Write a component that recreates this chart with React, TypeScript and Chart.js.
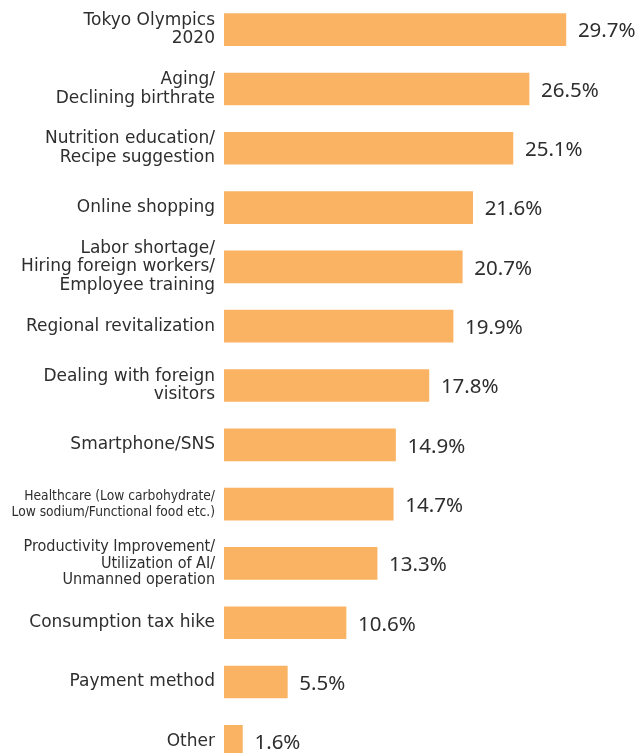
import React, { useEffect, useRef } from "react";
import { Chart, registerables } from "chart.js";

Chart.register(...registerables);

const categories: string[][] = [
  ["Tokyo Olympics", "2020"],
  ["Aging/", "Declining birthrate"],
  ["Nutrition education/", "Recipe suggestion"],
  ["Online shopping"],
  ["Labor shortage/", "Hiring foreign workers/", "Employee training"],
  ["Regional revitalization"],
  ["Dealing with foreign", "visitors"],
  ["Smartphone/SNS"],
  ["Healthcare (Low carbohydrate/", "Low sodium/Functional food etc.)"],
  ["Productivity Improvement/", "Utilization of AI/", "Unmanned operation"],
  ["Consumption tax hike"],
  ["Payment method"],
  ["Other"],
];

const values: number[] = [29.7, 26.5, 25.1, 21.6, 20.7, 19.9, 17.8, 14.9, 14.7, 13.3, 10.6, 5.5, 1.6];

const valueLabels: string[] = values.map((v) => v.toFixed(1) + "%");

const BAR_COLOR = "#F9B362";
const TEXT_COLOR = "#2e2e2e";

export default function App() {
  const ref = useRef<HTMLCanvasElement | null>(null);

  useEffect(() => {
    if (!ref.current) return;
    const valuePlugin = {
      id: "valueLabels",
      afterDatasetsDraw(chart: any) {
        const ctx = chart.ctx;
        const meta = chart.getDatasetMeta(0);
        ctx.save();
        ctx.font = "20.5px 'Noto Sans'";
        ctx.fillStyle = TEXT_COLOR;
        ctx.textAlign = "left";
        ctx.textBaseline = "middle";
        meta.data.forEach((bar: any, i: number) => {
          ctx.fillText(valueLabels[i], bar.x + 12, bar.y + 2);
        });
        ctx.restore();
      },
    };

    const chart = new Chart(ref.current, {
      type: "bar",
      data: {
        labels: categories,
        datasets: [
          {
            data: values,
            backgroundColor: BAR_COLOR,
            borderWidth: 0,
            barThickness: 32,
          },
        ],
      },
      options: {
        indexAxis: "y",
        animation: false,
        responsive: true,
        maintainAspectRatio: false,
        layout: { padding: 0 },
        plugins: {
          legend: { display: false },
          tooltip: { enabled: false },
          title: { display: false },
        },
        scales: {
          x: {
            display: false,
            min: 0,
            max: 36.4,
          },
          y: {
            grid: { display: false, drawTicks: false },
            border: { display: false },
            ticks: {
              color: TEXT_COLOR,
              padding: 9,
              font: (c: any) => {
                const i = c.index;
                if (i === 8) return { family: "'DejaVu Sans Condensed'", size: 13.7, lineHeight: "16px" };
                if (i === 9) return { family: "'DejaVu Sans Condensed'", size: 16, lineHeight: "16.5px" };
                return { family: "'DejaVu Sans'", size: 17, lineHeight: "18.5px" };
              },
            },
            afterFit: (scale: any) => {
              scale.width = 224;
              scale.paddingTop = 0;
              scale.paddingBottom = 0;
            },
          },
        },
      },
      plugins: [valuePlugin],
    });
    return () => chart.destroy();
  }, []);

  return (
    <div style={{ position: "absolute", left: 0, top: 0, width: 643, height: 753, overflow: "hidden" }}>
      <div style={{ position: "relative", width: 643, height: 771 }}>
        <canvas ref={ref} />
      </div>
    </div>
  );
}
